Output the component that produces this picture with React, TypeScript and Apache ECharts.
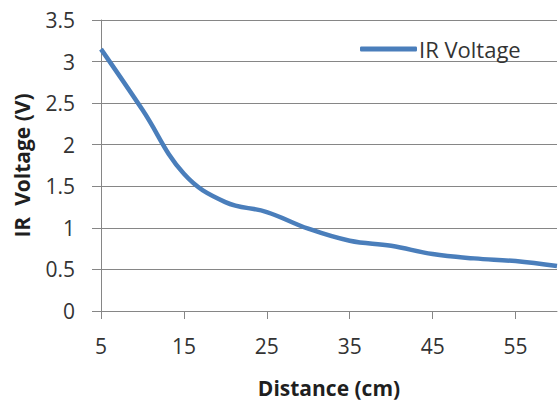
import React, { useEffect, useRef } from "react";
import * as echarts from "echarts";

const distances = ["5", "10", "15", "20", "25", "30", "35", "40", "45", "50", "55", "60"];
const irVoltage = [3.15, 2.42, 1.65, 1.31, 1.19, 0.99, 0.845, 0.785, 0.685, 0.633, 0.6, 0.54];
const seriesName = "IR Voltage";
const xTitle = "Distance (cm)";
const yTitle = "IR  Voltage (V)";

const FONT = "'Open Sans', sans-serif";

export default function App() {
  const ref = useRef<HTMLDivElement>(null);
  useEffect(() => {
    if (!ref.current) return;
    const chart = echarts.init(ref.current, undefined, { renderer: "svg" });
    chart.setOption({
      animation: false,
      backgroundColor: "#ffffff",
      textStyle: { fontFamily: FONT },
      grid: { left: 101, right: 1, top: 20, bottom: 91, containLabel: false },
      legend: {
        show: true,
        left: 355,
        top: 33,
        itemWidth: 57,
        itemHeight: 5,
        data: [{ name: seriesName, icon: "roundRect" }],
        itemStyle: { color: "#4a7ebb" },
        textStyle: { fontFamily: FONT, fontSize: 22, color: "#333333", padding: [0, 0, 0, -3] },
      },
      xAxis: {
        type: "category",
        data: distances,
        boundaryGap: false,
        name: xTitle,
        nameLocation: "middle",
        nameGap: 66,
        nameTextStyle: { fontFamily: FONT, fontSize: 21, fontWeight: "bold", color: "#1f1f1f" },
        axisLine: { lineStyle: { color: "#868686", width: 1 } },
        axisTick: { show: true, interval: 1, length: 8, lineStyle: { color: "#868686" } },
        axisLabel: { interval: 1, margin: 24, fontFamily: FONT, fontSize: 21, color: "#333333" },
        splitLine: { show: false },
      },
      yAxis: {
        type: "value",
        min: 0,
        max: 3.5,
        interval: 0.5,
        name: yTitle,
        nameLocation: "middle",
        nameGap: 69,
        nameRotate: 90,
        nameTextStyle: { fontFamily: FONT, fontSize: 21, fontWeight: "bold", color: "#1f1f1f" },
        axisLine: { show: true, lineStyle: { color: "#868686", width: 1 } },
        axisTick: { show: true, length: 9, lineStyle: { color: "#868686" } },
        axisLabel: { margin: 26, fontFamily: FONT, fontSize: 21, color: "#333333" },
        splitLine: { show: true, lineStyle: { color: "#868686", width: 1 } },
      },
      series: [
        {
          name: seriesName,
          type: "line",
          data: irVoltage,
          smooth: 0.4,
          symbol: "none",
          lineStyle: { color: "#4a7ebb", width: 4.5 },
          itemStyle: { color: "#4a7ebb" },
        },
      ],
    });
    return () => chart.dispose();
  }, []);
  return (
    <div
      ref={ref}
      style={{ position: "absolute", left: 0, top: 0, width: 558, height: 403 }}
    />
  );
}
